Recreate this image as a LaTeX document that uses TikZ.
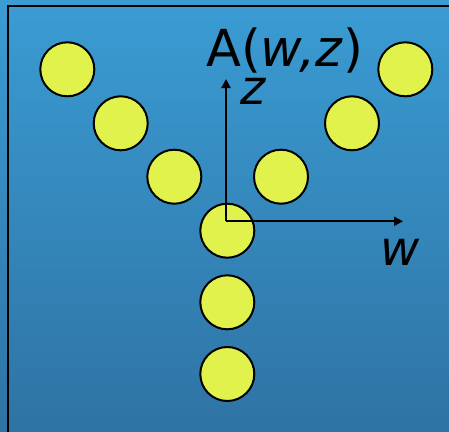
\documentclass[tikz,border=0pt]{standalone}
\usepackage{fontspec}
\setmainfont{DejaVu Sans}
\usetikzlibrary{arrows.meta}
\definecolor{bgtop}{RGB}{58,156,211}
\definecolor{bgbot}{RGB}{47,115,164}
\definecolor{ball}{RGB}{226,242,76}
\tikzset{
  mol/.style={circle, draw, line width=2pt, fill=ball, minimum size=54pt, inner sep=0pt},
  ax/.style={line width=2pt, -{Triangle[length=9pt, width=9pt]}},
  lab/.style={inner sep=0pt, anchor=base west, font=\fontsize{48}{48}\selectfont}
}

\begin{document}
\begin{tikzpicture}[x=1pt, y=-1pt]
		\useasboundingbox (0,0) rectangle (449,431);
		\clip (0,0) rectangle (449,431);
		\shade[top color=bgtop, bottom color=bgbot] (0,0) rectangle (449,431);
		\draw[line width=2pt] (8,6) rectangle (470,450);
		% the Y of balls
		\node[mol] (b1) at (67.3,69.3) {};
		\node[mol] (b2) at (120.7,123.3) {};
		\node[mol] (b3) at (174.3,176.7) {};
		\node[mol] (b4) at (281,176.7) {};
		\node[mol] (b5) at (352,123.3) {};
		\node[mol] (b6) at (405.3,69.3) {};
		\node[mol] (b7) at (227.3,230.7) {};
		\node[mol] (b8) at (227.3,302.3) {};
		\node[mol] (b9) at (227.3,374) {};
		% axes
		\coordinate (o) at (226,221.3);
		\coordinate (zend) at (226,79);
		\coordinate (wend) at (403,221.3);
		\draw[ax] (o) -- (zend);
		\draw[ax] (o) -- (wend);
		\node[lab, font=\fontsize{51}{51}\selectfont] (title) at (206,66.7) {A(\textit{w,z})};
		\node[lab] (zlab) at (240,104) {\textit{z}};
		\node[lab] (wlab) at (380,265) {\textit{w}};
	\end{tikzpicture}
\end{document}
